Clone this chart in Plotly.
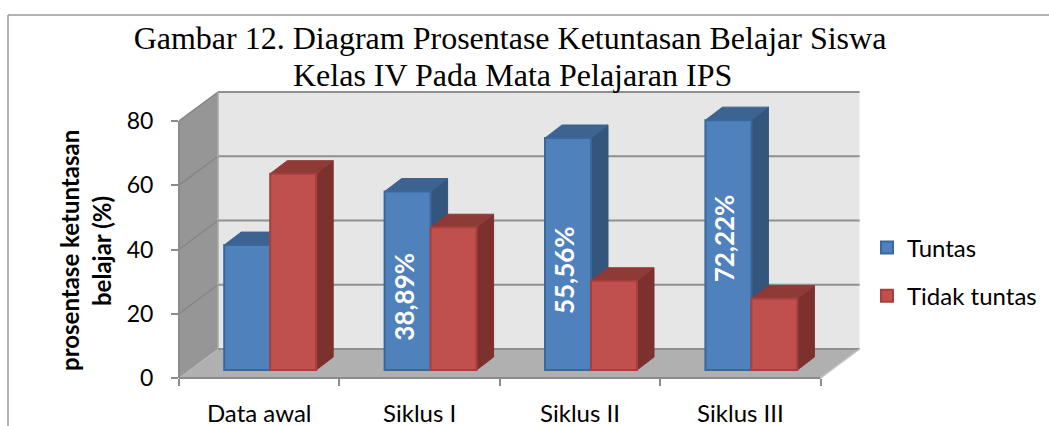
import plotly.graph_objects as go

# ---- data ----
categories = ["Data awal", "Siklus I", "Siklus II", "Siklus III"]
tuntas = [38.89, 55.56, 72.22, 77.78]
tidak_tuntas = [61.11, 44.44, 27.78, 22.22]
bar_label_text = ["38,89%", "55,56%", "72,22%"]
bar_label_categories = [1, 2, 3]
y_ticks = [0, 20, 40, 60, 80]
title_line_1 = "Gambar 12. Diagram Prosentase Ketuntasan Belajar Siswa"
title_line_2 = "Kelas IV Pada Mata Pelajaran IPS"

# ---- geometry (pixels -> axis units) ----
W, H = 1049, 426
L, R, T, B = 179, 864, 88, 378
PX_X = 160.4
PX_Y = 3.2125
xmin = -0.5
xmax = xmin + (R - L) / PX_X
ymax = (B - T) / PX_Y
wall_dx, wall_dy = 39 / PX_X, 29 / PX_Y
bar_dx, bar_dy = 17 / PX_X, 13 / PX_Y
bar_w = 46 / PX_X
base = 8 / PX_Y
shift = 11 / PX_X
xe = len(categories) - 0.5


def px(x):
    return (x - L) / (R - L)


def py(y):
    return (B - y) / (B - T)


FONT = "Lato, Carlito, Calibri, sans-serif"
SERIF = "Liberation Serif, Times New Roman, serif"
GRID = "#8f8f8f"

fig = go.Figure()

SERIES = [
    ("Tuntas", tuntas, -bar_w / 2, "#4F81BD", "#3B689C", "#34557C", "#3D6390", 1),
    ("Tidak tuntas", tidak_tuntas, bar_w / 2, "#C0504D", "#A4403D", "#7D312F", "#8E3A37", 3),
]
for name, vals, off, front, edge, side, top, z in SERIES:
    sx, sy, tx, ty = [], [], [], []
    for i, v in enumerate(vals):
        x0 = i + shift + off - bar_w / 2
        x1 = x0 + bar_w
        y1 = base + v
        sx += [x1, x1 + bar_dx, x1 + bar_dx, x1, x1, None]
        sy += [base, base + bar_dy, y1 + bar_dy, y1, base, None]
        tx += [x0, x0 + bar_dx, x1 + bar_dx, x1, x0, None]
        ty += [y1, y1 + bar_dy, y1 + bar_dy, y1, y1, None]
    for xs, ys, c in ((sx, sy, side), (tx, ty, top)):
        fig.add_trace(go.Scatter(
            x=xs, y=ys, mode="lines", fill="toself", fillcolor=c,
            line=dict(color=c, width=1), showlegend=False, hoverinfo="skip", zorder=z,
        ))
    fig.add_trace(go.Bar(
        x=[i + shift + off for i in range(len(vals))], y=vals, base=base, width=bar_w,
        name=name, legendgroup=name,
        marker=dict(color=front, line=dict(color=edge, width=2)), zorder=z + 1,
    ))

# ---- walls, floor, grid ----
shapes = []


def poly(pts, fill, line=None):
    path = "M " + " L ".join(f"{x},{y}" for x, y in pts) + " Z"
    shapes.append(dict(type="path", path=path, xref="x", yref="y", layer="below",
                       fillcolor=fill, line=dict(width=0)))


top_v = y_ticks[-1]
poly([(xmin + wall_dx, wall_dy), (xe + wall_dx, wall_dy), (xe + wall_dx, top_v + wall_dy),
      (xmin + wall_dx, top_v + wall_dy)], "#E6E6E6")
poly([(xmin, 0), (xmin + wall_dx, wall_dy), (xmin + wall_dx, top_v + wall_dy), (xmin, top_v)], "#969696")
poly([(xmin, 0), (xe, 0), (xe + wall_dx, wall_dy), (xmin + wall_dx, wall_dy)], "#B0B0B0")
for v in y_ticks:
    shapes.append(dict(type="line", xref="x", yref="y", layer="below",
                       x0=xmin + wall_dx, x1=xe + wall_dx, y0=v + wall_dy, y1=v + wall_dy,
                       line=dict(color=GRID, width=2)))
    if v > 0:
        shapes.append(dict(type="line", xref="x", yref="y", layer="below",
                           x0=xmin, x1=xmin + wall_dx, y0=v, y1=v + wall_dy,
                           line=dict(color="#858585", width=1.5)))
shapes.append(dict(type="line", xref="x", yref="y", layer="below",
                   x0=xmin + wall_dx, x1=xmin + wall_dx, y0=wall_dy, y1=top_v + wall_dy,
                   line=dict(color="#a8a8a8", width=1.5)))
# axis lines
shapes.append(dict(type="line", xref="x", yref="paper", x0=xmin, x1=xe, y0=0, y1=0,
                   line=dict(color="#8c8c8c", width=2)))
shapes.append(dict(type="line", xref="paper", yref="y", x0=0, x1=0, y0=0, y1=top_v,
                   line=dict(color="#8c8c8c", width=2)))
shapes.append(dict(type="line", xref="x", yref="y", x0=xe, x1=xe + wall_dx, y0=0, y1=wall_dy,
                   line=dict(color="#c4c4c4", width=1.5)))
# outer frame of the picture
shapes.append(dict(type="line", xref="paper", yref="paper", x0=px(8), x1=px(W), y0=py(15), y1=py(15),
                   line=dict(color="#9a9a9a", width=1.5)))
shapes.append(dict(type="line", xref="paper", yref="paper", x0=px(8), x1=px(8), y0=py(15), y1=py(H),
                   line=dict(color="#9a9a9a", width=1.5)))

# ---- text on bars ----
LABEL_Y = [25.2, 33.6, 43.6]
annotations = [
    dict(x=c + shift - bar_w / 2, y=y, xref="x", yref="y", text=f"<b>{t}</b>", textangle=-90,
         showarrow=False, xshift=-4, font=dict(family=FONT, size=26, color="white"))
    for t, c, y in zip(bar_label_text, bar_label_categories, LABEL_Y)
]
for txt, xp in (("prosentase ketuntasan", 73), ("belajar (%)", 105)):
    annotations.append(dict(x=px(xp - 4), y=py(251), xref="paper", yref="paper", text=f"<b>{txt}</b>",
                            textangle=-90, showarrow=False, xanchor="center", yanchor="middle",
                            font=dict(family=FONT, size=24, color="black")))
annotations.append(dict(x=px(512), y=py(75), xref="paper", yref="paper", text=title_line_2,
                        showarrow=False, xanchor="center", yanchor="middle",
                        font=dict(family=SERIF, size=32, color="black")))

fig.update_layout(
    width=W, height=H,
    margin=dict(l=L, r=W - R, t=T, b=H - B, autoexpand=False),
    paper_bgcolor="white", plot_bgcolor="rgba(0,0,0,0)",
    barmode="overlay", showlegend=True,
    title=dict(text=title_line_1, x=510 / W, xanchor="center", y=1 - 38 / H, yanchor="middle",
               font=dict(family=SERIF, size=32, color="black")),
    xaxis=dict(range=[xmin, xmax], tickmode="array", tickvals=list(range(len(categories))),
               ticktext=categories, ticks="outside", ticklen=8, tickcolor="rgba(0,0,0,0)",
               ticklabelstandoff=6,
               showgrid=False, zeroline=False, showline=False,
               tickfont=dict(family=FONT, size=24, color="black"),
               minor=dict(tickmode="array", tickvals=[i - 0.5 for i in range(len(categories) + 1)],
                          ticks="outside", ticklen=7, tickcolor="#8c8c8c", tickwidth=1.5, showgrid=False)),
    yaxis=dict(range=[0, ymax], tickmode="array", tickvals=y_ticks, ticks="outside", ticklen=7,
               tickcolor="#8c8c8c", tickwidth=1.5, showgrid=False, zeroline=False, showline=False,
               ticklabelstandoff=13,
               tickfont=dict(family=FONT, size=23, color="black")),
    legend=dict(x=px(867), y=py(272), xanchor="left", yanchor="middle", traceorder="grouped",
                tracegroupgap=14,
                bgcolor="rgba(0,0,0,0)", font=dict(family=FONT, size=24, color="black"),
                itemclick=False, itemdoubleclick=False),
    shapes=shapes, annotations=annotations,
)

fig.write_html("out.html", post_script="document.body.style.margin='0';document.body.style.overflow='hidden';",
               config=dict(displayModeBar=False))
